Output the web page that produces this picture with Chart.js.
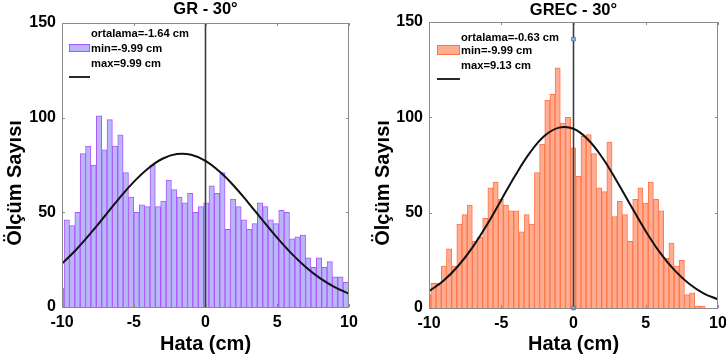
<!DOCTYPE html>
<html><head><meta charset="utf-8">
<script src="https://cdn.jsdelivr.net/npm/chart.js@4/dist/chart.umd.min.js"></script>
<style>
html,body{margin:0;padding:0;background:#fff;width:726px;height:360px;overflow:hidden}
.box{position:absolute;top:0;width:363px;height:360px}
#b1{left:0}#b2{left:363px}
</style></head><body>
<div class="box" id="b1"><canvas id="c1" width="363" height="360"></canvas></div>
<div class="box" id="b2"><canvas id="c2" width="363" height="360"></canvas></div>
<script>
// ---- data ----
const xTicks = [-10, -5, 0, 5, 10];
const yTicks = [0, 50, 100, 150];
const curveX = [-10,-9,-8,-7,-6,-5,-4,-3,-2,-1,0,1,2,3,4,5,6,7,8,9,10];

// GR - 30° histogram (bin start / width in cm, counts per bin)
const grBinStart = -10.229;
const grBinWidth = 0.374;
const grCounts = [10,46,43,50,81,85,75,101,83,99,85,91,71,58,50,54,53,75,53,56,
                  67,62,58,55,60,50,53,55,64,60,71,41,57,53,46,41,44,55,53,46,
                  44,51,50,36,37,38,26,21,26,21,24,16,16,13];
const grFit = [22.9,30.4,39.0,48.2,57.5,66.1,73.2,78.3,80.8,80.4,77.2,71.4,63.8,54.9,45.6,36.5,28.2,21.0,15.1,10.5,7.0];
const grLegend = ['ortalama=-1.64 cm', 'min=-9.99 cm', 'max=9.99 cm'];

// GREC - 30° histogram
const grecBinStart = -10.223;
const grecBinWidth = 0.358;
const grecCounts = [7,13,13,22,31,22,44,49,54,35,37,47,63,66,57,54,51,51,40,49,
                    44,71,86,109,112,126,97,100,84,69,90,91,81,63,61,87,48,56,49,35,
                    57,63,55,66,57,51,26,34,22,25,7,8,1,1];
const grecFit = [8.8,14.3,21.9,31.7,43.5,56.7,69.9,81.6,90.3,94.6,94.0,88.4,78.8,66.5,53.2,40.3,28.9,19.7,12.7,7.7,4.5];
const grecLegend = ['ortalama=-0.63 cm', 'min=-9.99 cm', 'max=9.13 cm'];
const grecMarkerY = [0, 141];

const FONT = '"Liberation Sans", Arial, Helvetica, sans-serif';

function makeChart(id, cfg) {
  const bars = cfg.counts.map((c, i) => ({x: cfg.binStart + cfg.binWidth * (i + 0.5), y: c}));
  const fit = curveX.map((x, i) => ({x: x, y: cfg.fit[i]}));
  const datasets = [
    {type: 'line', data: fit, borderColor: '#111', borderWidth: 2, pointRadius: 0, tension: 0.4, order: 1, clip: 0},
    {type: 'line', data: [{x: 0, y: yTicks[0]}, {x: 0, y: yTicks[yTicks.length - 1]}], borderColor: '#3c3c3c', borderWidth: 1.6, pointRadius: 0, order: 2, clip: 0},
    {type: 'bar', data: bars, backgroundColor: cfg.fill, borderColor: cfg.edge, borderWidth: 1, barPercentage: 1, categoryPercentage: 1, order: 3, clip: 0}
  ];
  if (cfg.markers) {
    datasets.unshift({type: 'line', showLine: false, data: cfg.markers.map(y => ({x: 0, y: y})), pointStyle: 'rect', pointRadius: 2.5, backgroundColor: 'rgb(150,190,230)', borderColor: 'rgb(70,120,185)', borderWidth: 1, order: 0, clip: false});
  }
  const decor = {
    id: 'decor',
    afterDraw(chart) {
      const ctx = chart.ctx, a = chart.chartArea, xs = chart.scales.x, ys = chart.scales.y;
      ctx.save();
      // box
      ctx.strokeStyle = '#8a8a8a'; ctx.lineWidth = 1;
      ctx.strokeRect(a.left + 0.5, a.top + 0.5, a.right - a.left - 1, a.bottom - a.top);
      // inward ticks
      ctx.beginPath();
      xTicks.forEach(v => { const p = Math.round(xs.getPixelForValue(v)) + 0.5;
        ctx.moveTo(p, a.bottom); ctx.lineTo(p, a.bottom - 3);
        ctx.moveTo(p, a.top); ctx.lineTo(p, a.top + 3); });
      yTicks.forEach(v => { const p = Math.round(ys.getPixelForValue(v)) + 0.5;
        ctx.moveTo(a.left, p); ctx.lineTo(a.left + 3, p);
        ctx.moveTo(a.right, p); ctx.lineTo(a.right - 3, p); });
      ctx.stroke();
      // titles
      ctx.fillStyle = '#000';
      ctx.textAlign = 'center'; ctx.textBaseline = 'middle';
      ctx.font = 'bold 16.5px ' + FONT;
      ctx.fillText(cfg.title, (a.left + a.right) / 2, cfg.titleY);
      ctx.font = 'bold 20px ' + FONT;
      ctx.fillText('Hata (cm)', (a.left + a.right) / 2, 344);
      ctx.save();
      ctx.translate(cfg.ylabX, 183); ctx.rotate(-Math.PI / 2);
      ctx.fillText('Ölçüm Sayısı', 0, 0);
      ctx.restore();
      // legend
      const L = cfg.leg;
      ctx.fillStyle = cfg.fill; ctx.strokeStyle = cfg.edge; ctx.lineWidth = 1;
      ctx.fillRect(L.x0, L.sy0, L.x1 - L.x0, L.sy1 - L.sy0);
      ctx.strokeRect(L.x0 + 0.5, L.sy0 + 0.5, L.x1 - L.x0 - 1, L.sy1 - L.sy0 - 1);
      ctx.strokeStyle = '#111'; ctx.lineWidth = 1.8;
      ctx.beginPath(); ctx.moveTo(L.x0, L.ly); ctx.lineTo(L.x1, L.ly); ctx.stroke();
      ctx.fillStyle = '#000'; ctx.textAlign = 'left';
      ctx.font = 'bold 11.2px ' + FONT;
      cfg.legend.forEach((t, i) => ctx.fillText(t, L.tx, L.ty[i]));
      ctx.restore();
    }
  };
  return new Chart(document.getElementById(id), {
    type: 'bar',
    data: {datasets: datasets},
    options: {
      responsive: false, animation: false, devicePixelRatio: 1,
      layout: {padding: {left: 0, right: cfg.padR, top: cfg.padT, bottom: 0}},
      plugins: {legend: {display: false}, tooltip: {enabled: false}},
      scales: {
        x: {type: 'linear', min: -10, max: 10, offset: false,
            grid: {display: false, drawTicks: false}, border: {display: false},
            ticks: {stepSize: 5, padding: 6, color: '#000', font: {family: FONT, size: 16, weight: 'bold'}},
            afterFit: s => { s.height = cfg.xH; s.paddingLeft = 0; s.paddingRight = 0; }},
        y: {min: 0, max: 150,
            grid: {display: false, drawTicks: false}, border: {display: false},
            ticks: {stepSize: 50, padding: 6, color: '#000', font: {family: FONT, size: 16, weight: 'bold'}},
            afterFit: s => { s.width = cfg.yW; s.paddingTop = 0; s.paddingBottom = 0; }}
      }
    },
    plugins: [decor]
  });
}

makeChart('c1', {
  counts: grCounts, binStart: grBinStart, binWidth: grBinWidth, fit: grFit, legend: grLegend,
  fill: 'rgb(184,184,248)', edge: 'rgb(176,84,255)', title: 'GR - 30°', titleY: 9,
  padR: 14, padT: 23, xH: 53, yW: 62, ylabX: 15,
  leg: {x0: 69, x1: 90, sy0: 44, sy1: 52, ly: 77, tx: 91, ty: [34, 48.5, 63.5]}
});
makeChart('c2', {
  counts: grecCounts, binStart: grecBinStart, binWidth: grecBinWidth, fit: grecFit, legend: grecLegend,
  markers: grecMarkerY,
  fill: 'rgb(255,172,146)', edge: 'rgb(255,118,68)', title: 'GREC - 30°', titleY: 10,
  padR: 8, padT: 22, xH: 52, yW: 66, ylabX: 20,
  leg: {x0: 74, x1: 97, sy0: 45, sy1: 55, ly: 79, tx: 98, ty: [37.5, 51, 65.5]}
});
</script>
</body></html>
